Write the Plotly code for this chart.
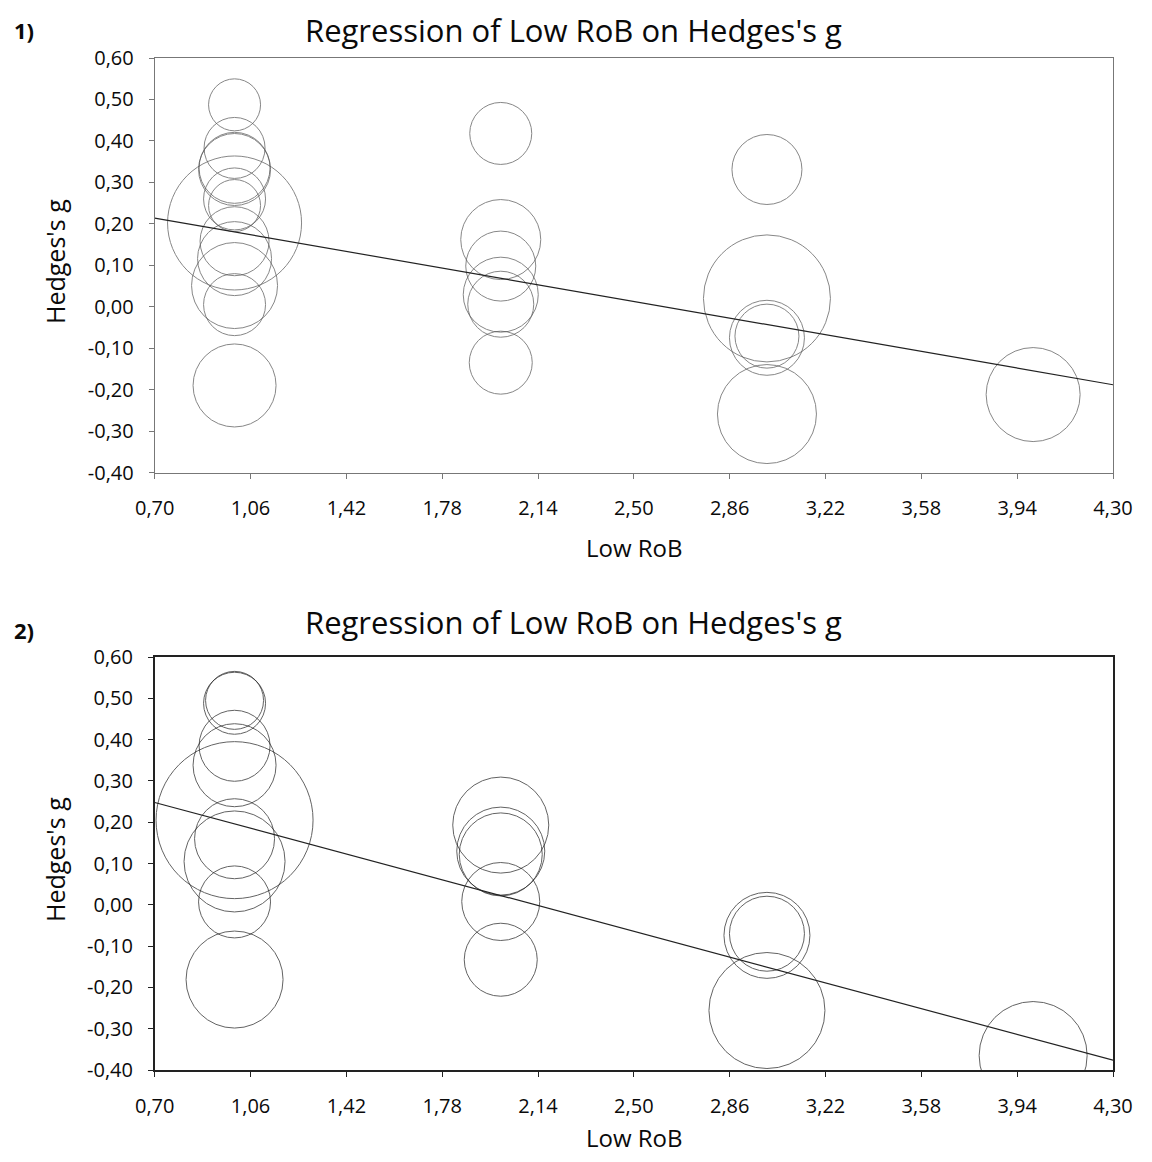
import plotly.graph_objects as go

# ---------- data ----------
x_ticks = [0.70, 1.06, 1.42, 1.78, 2.14, 2.50, 2.86, 3.22, 3.58, 3.94, 4.30]
x_tick_labels = ["0,70", "1,06", "1,42", "1,78", "2,14", "2,50", "2,86", "3,22", "3,58", "3,94", "4,30"]
y_ticks = [0.6, 0.5, 0.4, 0.3, 0.2, 0.1, 0.0, -0.1, -0.2, -0.3, -0.4]
y_tick_labels = ["0,60", "0,50", "0,40", "0,30", "0,20", "0,10", "0,00", "-0,10", "-0,20", "-0,30", "-0,40"]

# Panel 1: Low RoB, Hedges's g, study weight (bubble diameter)
p1_rob = [1, 1, 1, 1, 1, 1, 1, 1, 1, 1, 1, 1,
          2, 2, 2, 2, 2, 2,
          3, 3, 3, 3, 3,
          4]
p1_g = [0.487, 0.383, 0.335, 0.331, 0.260, 0.244, 0.202, 0.158, 0.116, 0.051, 0.005, -0.190,
        0.418, 0.162, 0.098, 0.029, 0.006, -0.135,
        0.331, 0.020, -0.075, -0.071, -0.259,
        -0.212]
p1_w = [52, 61, 71, 72, 62, 52, 134, 69, 74, 86, 62, 83,
        62, 80, 70, 75, 66, 63,
        70, 127, 75, 64, 99,
        94]
p1_intercept = 0.292
p1_slope = -0.1117

# Panel 2
p2_rob = [1, 1, 1, 1, 1, 1, 1, 1, 1,
          2, 2, 2, 2, 2,
          3, 3, 3,
          4]
p2_g = [0.495, 0.488, 0.385, 0.338, 0.205, 0.160, 0.105, 0.007, -0.181,
        0.193, 0.130, 0.122, 0.008, -0.133,
        -0.074, -0.070, -0.256,
        -0.365]
p2_w = [58, 62, 71, 83, 157, 80, 101, 72, 97,
        96, 88, 83, 78, 73,
        86, 75, 116,
        108]
p2_intercept = 0.369
p2_slope = -0.1733

title_text = "Regression of Low RoB on Hedges's g"
x_title = "Low RoB"
y_title = "Hedges's g"
panel_labels = ["1)", "2)"]

# ---------- layout geometry (page pixels; the page body has an 8px margin) ----------
OFF = 8
W, H = 1152 - 2 * OFF, 1162 - 2 * OFF
def fx(px):
    return (px - OFF) / W
def fy(py):
    return 1 - (py - OFF) / H

x_dom = [fx(154.7), fx(1113)]
y_dom1 = [fy(472.5), fy(58)]
y_dom2 = [fy(1070), fy(657)]
FONT = "Open Sans"

fig = go.Figure()

panels = [
    (p1_rob, p1_g, p1_w, p1_intercept, p1_slope, "x", "y", "#555555"),
    (p2_rob, p2_g, p2_w, p2_intercept, p2_slope, "x2", "y2", "#222222"),
]
x_min, x_max = x_ticks[0], x_ticks[-1]
for rob, g, w, b0, b1, xa, ya, ccol in panels:
    fig.add_trace(go.Scatter(
        x=rob, y=g, mode="markers", xaxis=xa, yaxis=ya,
        marker=dict(size=w, sizemode="diameter", color="rgba(0,0,0,0)",
                    line=dict(color=ccol, width=1)),
        hoverinfo="x+y", showlegend=False, cliponaxis=True))
    fig.add_trace(go.Scatter(
        x=[x_min, x_max], y=[b0 + b1 * x_min, b0 + b1 * x_max],
        mode="lines", xaxis=xa, yaxis=ya,
        line=dict(color="#222222", width=1.2), showlegend=False, hoverinfo="skip"))

def xaxis(anchor, col, lw):
    return dict(domain=x_dom, anchor=anchor, range=[x_min, x_max],
                tickmode="array", tickvals=x_ticks, ticktext=x_tick_labels,
                ticks="outside", ticklen=5, tickcolor=col, tickwidth=1,
                showline=True, linecolor=col, linewidth=lw, mirror=True,
                showgrid=False, zeroline=False, ticklabelstandoff=12, automargin=False,
                tickfont=dict(family=FONT, size=20, color="#0a0a0a"))

def yaxis(anchor, dom, col, lw):
    return dict(domain=dom, anchor=anchor, range=[-0.4, 0.6],
                tickmode="array", tickvals=y_ticks, ticktext=y_tick_labels,
                ticks="outside", ticklen=5, tickcolor=col, tickwidth=1,
                showline=True, linecolor=col, linewidth=lw, mirror=True,
                showgrid=False, zeroline=False, ticklabelstandoff=11, automargin=False,
                tickfont=dict(family=FONT, size=20, color="#0a0a0a"))

fig.update_layout(
    width=W, height=H, margin=dict(l=0, r=0, t=0, b=0, pad=0, autoexpand=False),
    paper_bgcolor="white", plot_bgcolor="white",
    xaxis=xaxis("y", "#777777", 1),
    yaxis=yaxis("x", y_dom1, "#777777", 1),
    xaxis2=xaxis("y2", "#222222", 1.5),
    yaxis2=yaxis("x2", y_dom2, "#222222", 1.5),
)

def ann(text, x, y, size, bold=False, angle=0, xanchor="center"):
    fig.add_annotation(text=("<b>%s</b>" % text) if bold else text,
                       x=fx(x), y=fy(y), xref="paper", yref="paper",
                       showarrow=False, textangle=angle, xanchor=xanchor, yanchor="middle",
                       font=dict(family=FONT, size=size, color="#0a0a0a"))

for (ytitle, ylab, yxt, yyt), plab in zip([(30, 30, 547, 262), (622, 630, 1137, 860)], panel_labels):
    ann(title_text, 573.5, ytitle, 31)
    ann(plab, 12, ylab, 22, bold=True, xanchor="left")
    ann(x_title, 634, yxt, 24)
    ann(y_title, 55, yyt, 25, angle=-90)

fig.write_html("out.html")
